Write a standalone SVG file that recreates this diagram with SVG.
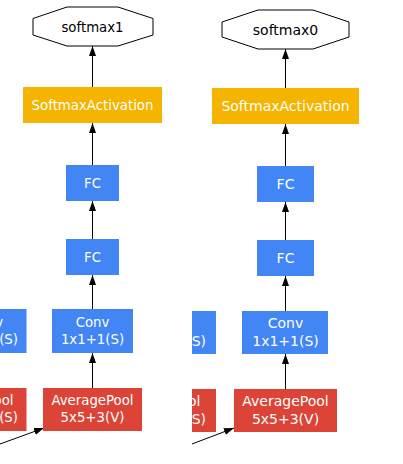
<svg xmlns="http://www.w3.org/2000/svg" width="403" height="464" viewBox="0 0 403 464">
<defs>
<style>
.t{font-family:"DejaVu Sans","Liberation Sans",sans-serif;fill:#fff;text-anchor:middle}
.l{font-size:13.3px}
.r{font-size:14px}
.k{fill:#000}
.e{text-anchor:end}
.blue{fill:#4285F4}
.yel{fill:#F4B400}
.red{fill:#DB4437}
.oct{fill:#fff;stroke:#000;stroke-width:1}
.edge{stroke:#000;stroke-width:1;fill:none;marker-end:url(#ah)}
</style>
<marker id="ah" markerUnits="userSpaceOnUse" markerWidth="11" markerHeight="8" refX="10" refY="3.5" orient="auto">
<path d="M0,0 L10,3.5 L0,7 z" fill="#000"/>
</marker>
</defs>
<rect width="403" height="464" fill="#fff"/>
<g id="connectors">
<line class="edge" x1="92.5" y1="388" x2="92.5" y2="353"/>
<line class="edge" x1="92.5" y1="309" x2="92.5" y2="275"/>
<line class="edge" x1="92.5" y1="239" x2="92.5" y2="201"/>
<line class="edge" x1="92.5" y1="165" x2="92.5" y2="123"/>
<line class="edge" x1="92.5" y1="87" x2="92.5" y2="46"/>
<line class="edge" x1="0" y1="444" x2="44" y2="428"/>
<line class="edge" x1="285.5" y1="389" x2="285.5" y2="354"/>
<line class="edge" x1="285.5" y1="311" x2="285.5" y2="276"/>
<line class="edge" x1="285.5" y1="240" x2="285.5" y2="202"/>
<line class="edge" x1="285.5" y1="166" x2="285.5" y2="124"/>
<line class="edge" x1="285.5" y1="88" x2="285.5" y2="49"/>
<line class="edge" x1="192" y1="444" x2="234" y2="428"/>
</g>
<g id="softmax1">
<polygon class="oct" points="67,7 118,7 153,18.5 153,35 118,46 67,46 33,35 33,18.5"/>
<text class="t l k" x="92.5" y="31.5">softmax1</text>
</g>
<g id="softmaxact1">
<rect class="yel" x="23" y="87" width="139" height="36"/>
<text class="t l" x="92.5" y="110">SoftmaxActivation</text>
</g>
<g id="fc1b">
<rect class="blue" x="66" y="165" width="53" height="36"/>
<text class="t l" x="92.5" y="188">FC</text>
</g>
<g id="fc1a">
<rect class="blue" x="66" y="239" width="53" height="36"/>
<text class="t l" x="92.5" y="262">FC</text>
</g>
<g id="conv1">
<rect class="blue" x="52" y="309" width="81" height="44"/>
<text class="t l" x="92.5" y="327">Conv</text>
<text class="t l" x="92.5" y="343.5">1x1+1(S)</text>
</g>
<g id="avgpool1">
<rect class="red" x="43" y="388" width="99" height="43"/>
<text class="t l" x="92.5" y="404.5">AveragePool</text>
<text class="t l" x="92.5" y="421.5">5x5+3(V)</text>
</g>
<g id="partial1a">
<rect class="blue" x="0" y="309" width="26.5" height="44"/>
<text class="t l e" x="3" y="327">v</text>
<text class="t l e" x="18" y="343.5">(S)</text>
</g>
<g id="partial1b">
<rect class="red" x="0" y="388" width="26.5" height="43"/>
<text class="t l e" x="13.5" y="404.5">ool</text>
<text class="t l e" x="18" y="421.5">(S)</text>
</g>
<g id="softmax0">
<polygon class="oct" points="258,10 313,10 349,22 349,37 313,49 258,49 222,37 222,22"/>
<text class="t r k" x="285.5" y="34.5">softmax0</text>
</g>
<g id="softmaxact0">
<rect class="yel" x="212" y="88" width="147" height="36"/>
<text class="t r" x="285.5" y="111">SoftmaxActivation</text>
</g>
<g id="fc0b">
<rect class="blue" x="257" y="166" width="57" height="36"/>
<text class="t r" x="285.5" y="189">FC</text>
</g>
<g id="fc0a">
<rect class="blue" x="257" y="240" width="57" height="36"/>
<text class="t r" x="285.5" y="263">FC</text>
</g>
<g id="conv0">
<rect class="blue" x="242" y="311" width="86" height="43"/>
<text class="t r" x="285.5" y="328">Conv</text>
<text class="t r" x="285.5" y="345.5">1x1+1(S)</text>
</g>
<g id="avgpool0">
<rect class="red" x="234" y="389" width="103" height="43"/>
<text class="t r" x="285.5" y="406">AveragePool</text>
<text class="t r" x="285.5" y="423.5">5x5+3(V)</text>
</g>
<g id="partial0a">
<rect class="blue" x="192" y="311" width="24" height="43"/>
<text class="t r e" x="206" y="345.5">S)</text>
</g>
<g id="partial0b">
<rect class="red" x="192" y="389" width="24" height="43"/>
<text class="t r e" x="200.5" y="406">ol</text>
<text class="t r e" x="206" y="423.5">S)</text>
</g>
</svg>
